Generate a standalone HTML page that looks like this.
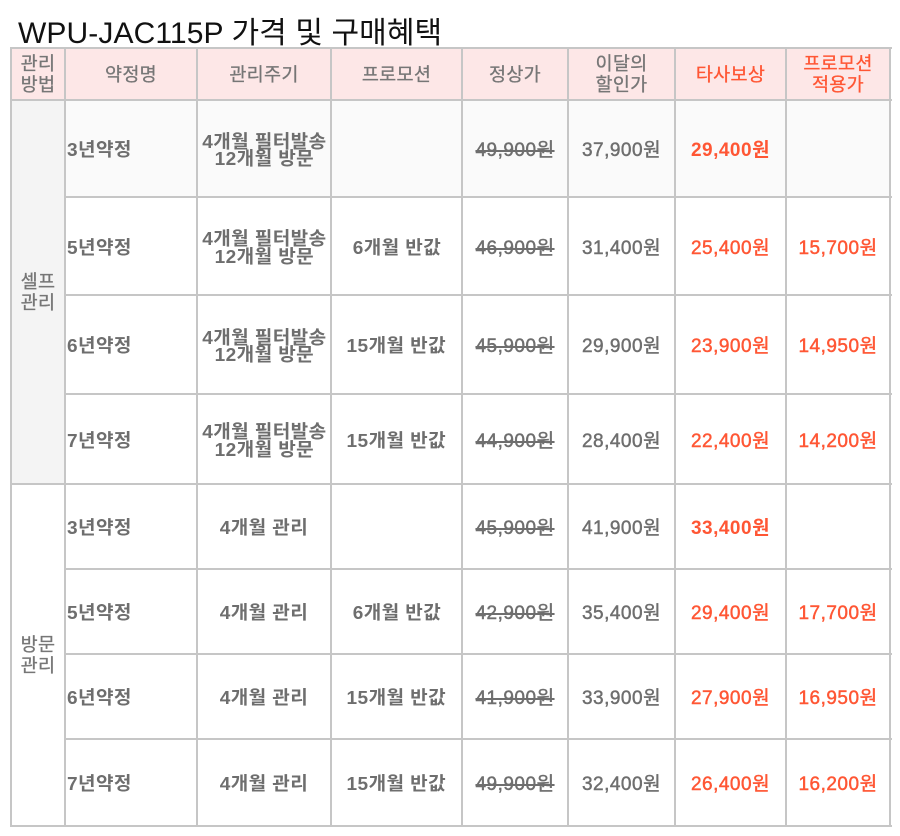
<!DOCTYPE html>
<html><head><meta charset="utf-8">
<style>
*{margin:0;padding:0;box-sizing:border-box}
body{width:900px;height:836px;background:#fff;position:relative;overflow:hidden;font-family:"Liberation Sans","Noto Sans CJK KR",sans-serif;color:#6e6e6e}
.t{position:absolute;left:18px;top:8px;font-size:30px;color:#111;white-space:nowrap;letter-spacing:0.1px}
.bg{position:absolute}
.h{position:absolute;height:2px;background:#c6c6c6}
.v{position:absolute;width:2px;background:#c6c6c6}
.c{position:absolute;display:flex;align-items:center;justify-content:center;text-align:center;white-space:nowrap}
.hd{font-size:18.5px;line-height:21px;color:#767676;letter-spacing:0.3px;-webkit-text-stroke:0.3px currentColor}
.red{color:#ff5634}
.k{font-size:18.5px;line-height:17.5px;font-weight:bold;color:#6e6e6e;letter-spacing:0.4px}
.k span{display:inline-block;transform:scaleX(1.03);padding-top:3px}
.l span{transform-origin:left center}
.n{font-size:19px;letter-spacing:0.5px;color:#6e6e6e;-webkit-text-stroke:0.45px currentColor}
.s{text-decoration:line-through;text-decoration-thickness:2px}
.rn{font-size:19px;letter-spacing:0.5px;color:#ff5634;-webkit-text-stroke:0.45px currentColor}
.b{font-weight:bold;-webkit-text-stroke:0}
.l{justify-content:flex-start;padding-left:2px}
</style></head><body>
<div class="t">WPU-JAC115P 가격 및 구매혜택</div>

<!-- backgrounds -->
<div class="bg" style="left:11px;top:48px;width:879px;height:52px;background:#fde7e7"></div>
<div class="bg" style="left:11px;top:100px;width:54px;height:384px;background:#f4f4f4"></div>
<div class="bg" style="left:65px;top:100px;width:825px;height:97px;background:#fafafa"></div>

<!-- horizontal lines -->
<div class="h" style="left:10px;top:47px;width:882px"></div>
<div class="h" style="left:10px;top:99px;width:882px"></div>
<div class="h" style="left:65px;top:196px;width:827px"></div>
<div class="h" style="left:65px;top:294px;width:827px"></div>
<div class="h" style="left:65px;top:393px;width:827px"></div>
<div class="h" style="left:10px;top:483px;width:882px"></div>
<div class="h" style="left:65px;top:568px;width:827px"></div>
<div class="h" style="left:65px;top:653px;width:827px"></div>
<div class="h" style="left:65px;top:738px;width:827px"></div>
<div class="h" style="left:10px;top:825px;width:882px"></div>

<!-- vertical lines -->
<div class="v" style="left:10px;top:47px;height:780px"></div>
<div class="v" style="left:64px;top:47px;height:780px"></div>
<div class="v" style="left:196px;top:47px;height:780px"></div>
<div class="v" style="left:330px;top:47px;height:780px"></div>
<div class="v" style="left:461px;top:47px;height:780px"></div>
<div class="v" style="left:567px;top:47px;height:780px"></div>
<div class="v" style="left:674px;top:47px;height:780px"></div>
<div class="v" style="left:785px;top:47px;height:780px"></div>
<div class="v" style="left:889px;top:47px;height:780px"></div>

<!-- header -->
<div class="c hd" style="left:11px;top:48px;width:54px;height:52px">관리<br>방법</div>
<div class="c hd" style="left:65px;top:48px;width:132px;height:52px">약정명</div>
<div class="c hd" style="left:197px;top:48px;width:134px;height:52px">관리주기</div>
<div class="c hd" style="left:331px;top:48px;width:131px;height:52px">프로모션</div>
<div class="c hd" style="left:462px;top:48px;width:106px;height:52px">정상가</div>
<div class="c hd" style="left:568px;top:48px;width:107px;height:52px">이달의<br>할인가</div>
<div class="c hd red" style="left:675px;top:48px;width:111px;height:52px">타사보상</div>
<div class="c hd red" style="left:786px;top:48px;width:104px;height:52px">프로모션<br>적용가</div>

<!-- group labels -->
<div class="c hd" style="left:11px;top:100px;width:54px;height:384px">셀프<br>관리</div>
<div class="c hd" style="left:11px;top:484px;width:54px;height:342px">방문<br>관리</div>

<!-- row 1 -->
<div class="c k l" style="left:65px;top:100px;width:132px;height:97px"><span>3년약정</span></div>
<div class="c k" style="left:197px;top:100px;width:134px;height:97px"><span>4개월 필터발송<br>12개월 방문</span></div>
<div class="c n s" style="left:462px;top:100px;width:106px;height:97px">49,900원</div>
<div class="c n" style="left:568px;top:100px;width:107px;height:97px">37,900원</div>
<div class="c rn b" style="left:675px;top:100px;width:111px;height:97px">29,400원</div>

<!-- row 2 -->
<div class="c k l" style="left:65px;top:197px;width:132px;height:98px"><span>5년약정</span></div>
<div class="c k" style="left:197px;top:197px;width:134px;height:98px"><span>4개월 필터발송<br>12개월 방문</span></div>
<div class="c k" style="left:331px;top:197px;width:131px;height:98px"><span>6개월 반값</span></div>
<div class="c n s" style="left:462px;top:197px;width:106px;height:98px">46,900원</div>
<div class="c n" style="left:568px;top:197px;width:107px;height:98px">31,400원</div>
<div class="c rn" style="left:675px;top:197px;width:111px;height:98px">25,400원</div>
<div class="c rn" style="left:786px;top:197px;width:104px;height:98px">15,700원</div>

<!-- row 3 -->
<div class="c k l" style="left:65px;top:295px;width:132px;height:99px"><span>6년약정</span></div>
<div class="c k" style="left:197px;top:295px;width:134px;height:99px"><span>4개월 필터발송<br>12개월 방문</span></div>
<div class="c k" style="left:331px;top:295px;width:131px;height:99px"><span>15개월 반값</span></div>
<div class="c n s" style="left:462px;top:295px;width:106px;height:99px">45,900원</div>
<div class="c n" style="left:568px;top:295px;width:107px;height:99px">29,900원</div>
<div class="c rn" style="left:675px;top:295px;width:111px;height:99px">23,900원</div>
<div class="c rn" style="left:786px;top:295px;width:104px;height:99px">14,950원</div>

<!-- row 4 -->
<div class="c k l" style="left:65px;top:394px;width:132px;height:90px"><span>7년약정</span></div>
<div class="c k" style="left:197px;top:394px;width:134px;height:90px"><span>4개월 필터발송<br>12개월 방문</span></div>
<div class="c k" style="left:331px;top:394px;width:131px;height:90px"><span>15개월 반값</span></div>
<div class="c n s" style="left:462px;top:394px;width:106px;height:90px">44,900원</div>
<div class="c n" style="left:568px;top:394px;width:107px;height:90px">28,400원</div>
<div class="c rn" style="left:675px;top:394px;width:111px;height:90px">22,400원</div>
<div class="c rn" style="left:786px;top:394px;width:104px;height:90px">14,200원</div>

<!-- row 5 -->
<div class="c k l" style="left:65px;top:484px;width:132px;height:85px"><span>3년약정</span></div>
<div class="c k" style="left:197px;top:484px;width:134px;height:85px"><span>4개월 관리</span></div>
<div class="c n s" style="left:462px;top:484px;width:106px;height:85px">45,900원</div>
<div class="c n" style="left:568px;top:484px;width:107px;height:85px">41,900원</div>
<div class="c rn b" style="left:675px;top:484px;width:111px;height:85px">33,400원</div>

<!-- row 6 -->
<div class="c k l" style="left:65px;top:569px;width:132px;height:85px"><span>5년약정</span></div>
<div class="c k" style="left:197px;top:569px;width:134px;height:85px"><span>4개월 관리</span></div>
<div class="c k" style="left:331px;top:569px;width:131px;height:85px"><span>6개월 반값</span></div>
<div class="c n s" style="left:462px;top:569px;width:106px;height:85px">42,900원</div>
<div class="c n" style="left:568px;top:569px;width:107px;height:85px">35,400원</div>
<div class="c rn" style="left:675px;top:569px;width:111px;height:85px">29,400원</div>
<div class="c rn" style="left:786px;top:569px;width:104px;height:85px">17,700원</div>

<!-- row 7 -->
<div class="c k l" style="left:65px;top:654px;width:132px;height:85px"><span>6년약정</span></div>
<div class="c k" style="left:197px;top:654px;width:134px;height:85px"><span>4개월 관리</span></div>
<div class="c k" style="left:331px;top:654px;width:131px;height:85px"><span>15개월 반값</span></div>
<div class="c n s" style="left:462px;top:654px;width:106px;height:85px">41,900원</div>
<div class="c n" style="left:568px;top:654px;width:107px;height:85px">33,900원</div>
<div class="c rn" style="left:675px;top:654px;width:111px;height:85px">27,900원</div>
<div class="c rn" style="left:786px;top:654px;width:104px;height:85px">16,950원</div>

<!-- row 8 -->
<div class="c k l" style="left:65px;top:739px;width:132px;height:87px"><span>7년약정</span></div>
<div class="c k" style="left:197px;top:739px;width:134px;height:87px"><span>4개월 관리</span></div>
<div class="c k" style="left:331px;top:739px;width:131px;height:87px"><span>15개월 반값</span></div>
<div class="c n s" style="left:462px;top:739px;width:106px;height:87px">49,900원</div>
<div class="c n" style="left:568px;top:739px;width:107px;height:87px">32,400원</div>
<div class="c rn" style="left:675px;top:739px;width:111px;height:87px">26,400원</div>
<div class="c rn" style="left:786px;top:739px;width:104px;height:87px">16,200원</div>
</body></html>
